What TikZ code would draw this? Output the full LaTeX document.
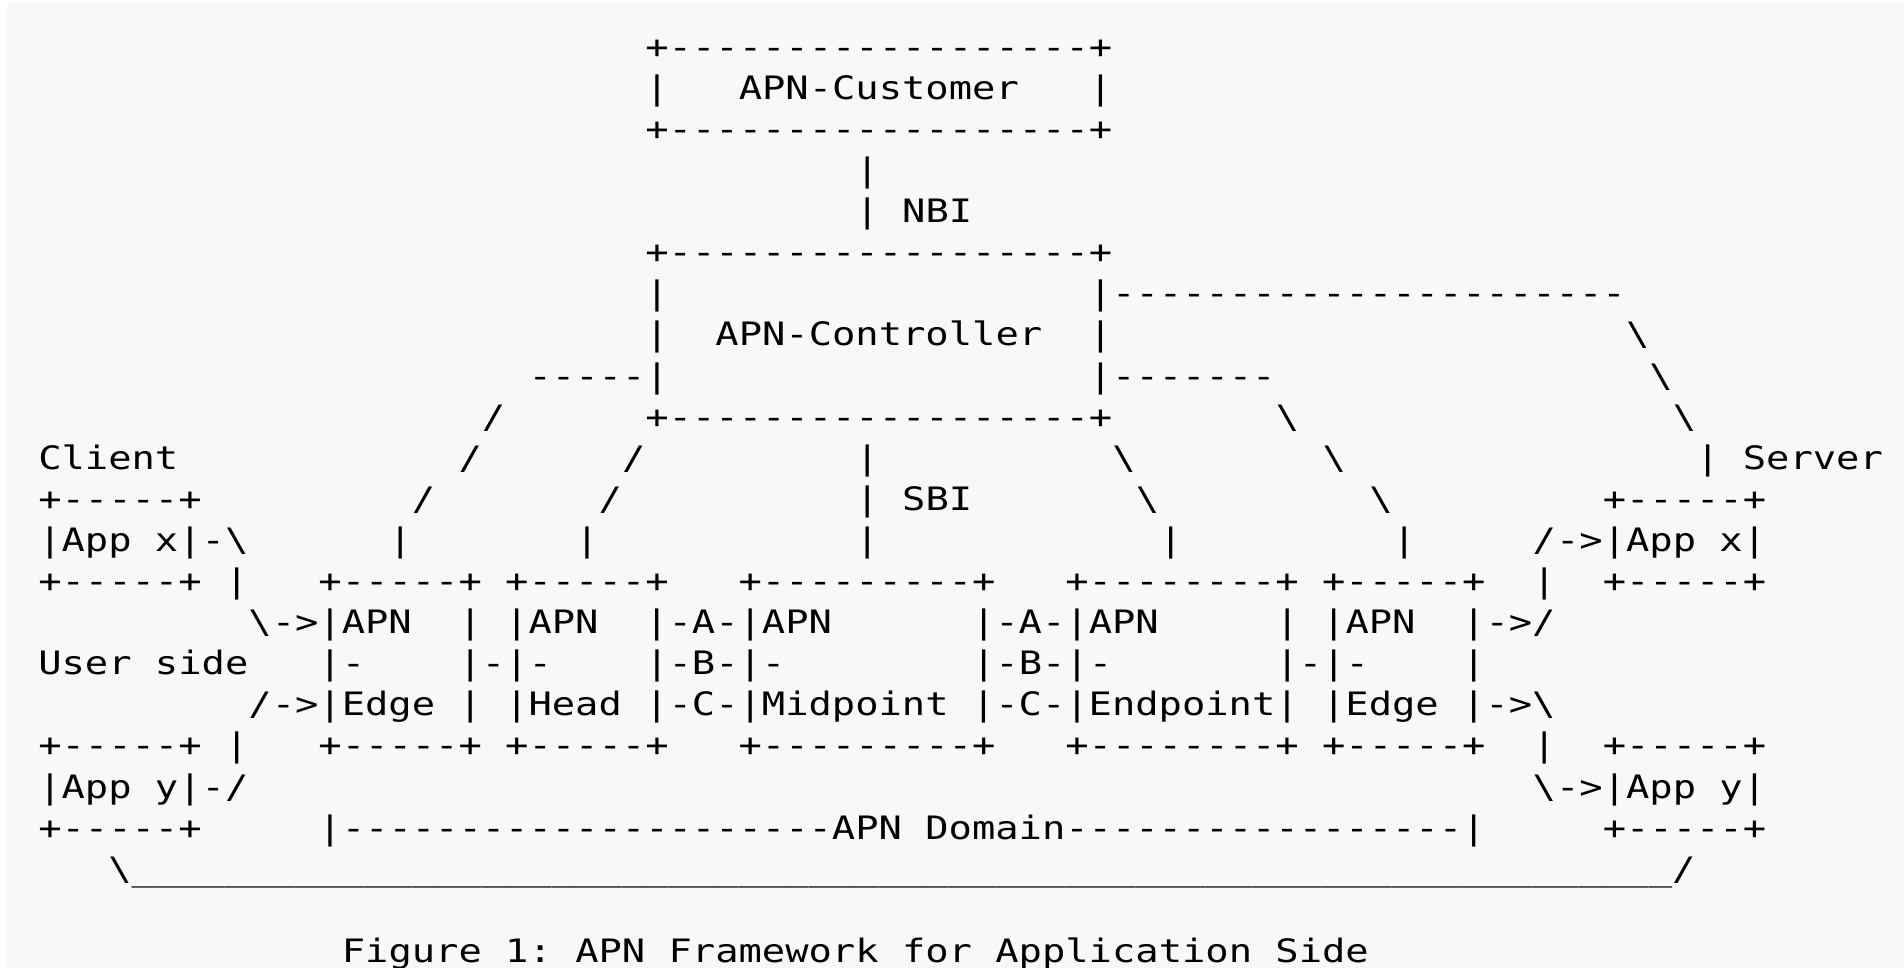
\documentclass[tikz,border=0pt]{standalone}
\usepackage{fontspec}
\setmonofont{DejaVu Sans Mono}[FakeStretch=1.203]
\usepackage{xcolor}
\usepackage{tikz}
\definecolor{paper}{HTML}{F8F8F8}
\newcommand{\apnfont}{\ttfamily\fontsize{9.17pt}{11pt}\selectfont\frenchspacing\spaceskip=\fontcharwd\font`x\relax}

\begin{document}
\begin{tikzpicture}[x=0.2335cm,y=-0.411cm,
	asc/.style={anchor=base west,inner sep=0pt,outer sep=0pt,font=\apnfont,text=black}]
	\useasboundingbox (-1.640,-1.4185) rectangle (79.90,22.134);
	\fill[white] (-1.640,-1.4185) rectangle (79.90,22.134);
	\fill[paper] (-1.340,-1.3455) rectangle (79.90,22.134);
	% customer and controller
	\node[asc] (custTop) at (26,0) {+------------------+};
	\node[asc] (custBox) at (26,1) {|~~~APN-Customer~~~|};
	\node[asc] (custBot) at (26,2) {+------------------+};
	\node[asc] (nbiUp) at (35,3) {|};
	\node[asc] (nbi) at (35,4) {|~NBI};
	\node[asc] (ctrlTop) at (26,5) {+------------------+};
	\node[asc] (ctrlUp) at (26,6) {|~~~~~~~~~~~~~~~~~~|----------------------};
	\node[asc] (ctrl) at (26,7) {|~~APN-Controller~~|};
	\node[asc] (ctrlLow) at (21,8) {-----|~~~~~~~~~~~~~~~~~~|-------};
	\node[asc] (ctrlBot) at (26,9) {+------------------+};
	% branches down to the nodes
	\node[asc] (edgeA) at (19,9) {/};
	\node[asc] (edgeB) at (18,10) {/};
	\node[asc] (edgeC) at (16,11) {/};
	\node[asc] (edgeD) at (15,12) {|};
	\node[asc] (headA) at (25,10) {/};
	\node[asc] (headB) at (24,11) {/};
	\node[asc] (headC) at (23,12) {|};
	\node[asc] (sbiUp) at (35,10) {|};
	\node[asc] (sbi) at (35,11) {|~SBI};
	\node[asc] (sbiLow) at (35,12) {|};
	\node[asc] (endA) at (46,10) {\textbackslash};
	\node[asc] (endB) at (47,11) {\textbackslash};
	\node[asc] (endC) at (48,12) {|};
	\node[asc] (redgeA) at (53,9) {\textbackslash};
	\node[asc] (redgeB) at (55,10) {\textbackslash};
	\node[asc] (redgeC) at (57,11) {\textbackslash};
	\node[asc] (redgeD) at (58,12) {|};
	\node[asc] (srvA) at (68,7) {\textbackslash};
	\node[asc] (srvB) at (69,8) {\textbackslash};
	\node[asc] (srvC) at (70,9) {\textbackslash};
	\node[asc] (server) at (71,10) {|~Server};
	% client side
	\node[asc] (client) at (0,10) {Client};
	\node[asc] (appxTop) at (0,11) {+-----+};
	\node[asc] (appx) at (0,12) {|App~x|-\textbackslash};
	\node[asc] (appxBot) at (0,13) {+-----+~|};
	\node[asc] (user) at (0,15) {User~side};
	\node[asc] (appyTop) at (0,17) {+-----+~|};
	\node[asc] (appy) at (0,18) {|App~y|-/};
	\node[asc] (appyBot) at (0,19) {+-----+};
	% APN nodes
	\node[asc] (apnTop) at (12,13) {+-----+~+-----+~~~+---------+~~~+--------+~+-----+};
	\node[asc] (apnA) at (9,14) {\textbackslash->|APN~~|~|APN~~|-A-|APN~~~~~~|-A-|APN~~~~~|~|APN~~|->/};
	\node[asc] (apnB) at (12,15) {|-~~~~|-|-~~~~|-B-|-~~~~~~~~|-B-|-~~~~~~~|-|-~~~~|};
	\node[asc] (apnC) at (9,16) {/->|Edge~|~|Head~|-C-|Midpoint~|-C-|Endpoint|~|Edge~|->\textbackslash};
	\node[asc] (apnBot) at (12,17) {+-----+~+-----+~~~+---------+~~~+--------+~+-----+};
	% server side
	\node[asc] (srvxTop) at (67,11) {+-----+};
	\node[asc] (srvx) at (64,12) {/->|App~x|};
	\node[asc] (srvxBot) at (64,13) {|~~+-----+};
	\node[asc] (srvyTop) at (64,17) {|~~+-----+};
	\node[asc] (srvy) at (64,18) {\textbackslash->|App~y|};
	\node[asc] (srvyBot) at (67,19) {+-----+};
	% domain and loop
	\node[asc] (domain) at (12,19) {|---------------------APN~Domain-----------------|};
	\node[asc] (loop) at (3,20) {\textbackslash\_\_\_\_\_\_\_\_\_\_\_\_\_\_\_\_\_\_\_\_\_\_\_\_\_\_\_\_\_\_\_\_\_\_\_\_\_\_\_\_\_\_\_\_\_\_\_\_\_\_\_\_\_\_\_\_\_\_\_\_\_\_\_\_\_\_/};
	\node[asc] (caption) at (13,22) {Figure~1:~APN~Framework~for~Application~Side};
\end{tikzpicture}
\end{document}
